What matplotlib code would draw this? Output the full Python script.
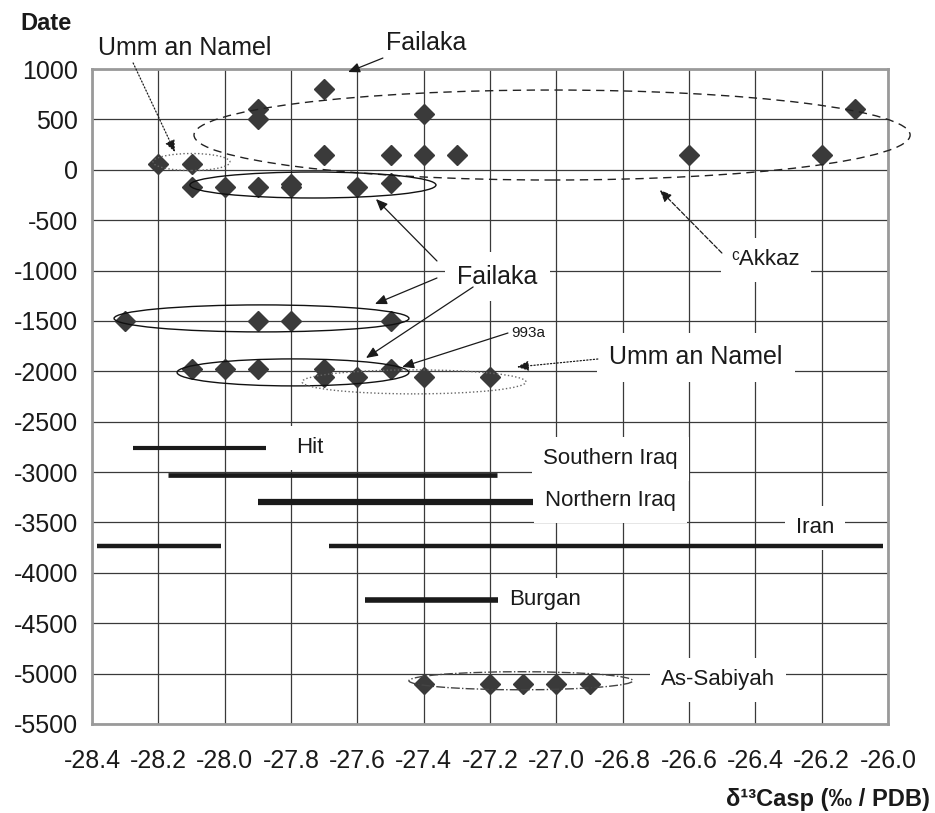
import numpy as np
import matplotlib.pyplot as plt
from matplotlib.patches import Ellipse

plt.rcParams['font.family'] = ['Liberation Sans', 'DejaVu Sans']
plt.rcParams['axes.unicode_minus'] = False

# Sample points (d13C, date)
failaka_top_x = [-27.9, -27.9, -27.7, -27.4, -27.7, -27.5, -27.4, -27.3, -26.6, -26.2, -26.1]
failaka_top_y = [600, 500, 800, 550, 150, 150, 150, 150, 150, 150, 600]
umm_top_x = [-28.2, -28.1]
umm_top_y = [60, 60]
failaka_mid_x = [-28.1, -28.0, -27.9, -27.8, -27.8, -27.6, -27.5]
failaka_mid_y = [-170, -170, -170, -140, -175, -170, -130]
failaka_1500_x = [-28.3, -27.9, -27.8, -27.5]
failaka_1500_y = [-1500, -1500, -1500, -1500]
group_2000_x = [-28.1, -28.0, -27.9, -27.7, -27.7, -27.6, -27.5, -27.4, -27.2]
group_2000_y = [-1980, -1980, -1980, -1980, -2060, -2060, -1980, -2060, -2060]
sabiyah_x = [-27.4, -27.2, -27.1, -27.0, -26.9]
sabiyah_y = [-5100, -5100, -5100, -5100, -5100]

# Reference ranges (horizontal bars)
bar_names = ['Hit', 'Southern Iraq', 'Northern Iraq', 'Iran', 'Iran', 'Burgan']
bar_y = [-2760, -3030, -3300, -3730, -3730, -4270]
bar_x0 = [-28.275, -28.17, -27.90, -28.385, -27.685, -27.577]
bar_x1 = [-27.875, -27.18, -27.07, -28.01, -26.015, -27.176]
bar_lw = [3.0, 3.4, 4.5, 3.2, 3.2, 4.0]

xticks = np.round(np.arange(-28.4, -25.99, 0.2), 1)
yticks = np.arange(-5500, 1001, 500)

fig = plt.figure(figsize=(9.35, 8.13), dpi=100)
ax = fig.add_axes([0.0984, 0.1095, 0.8514, 0.8056])
ax.set_xlim(-28.4, -26.0)
ax.set_ylim(-5500, 1000)
ax.set_xticks(xticks)
ax.set_xticklabels(['%.1f' % v for v in xticks])
ax.set_yticks(yticks)
ax.tick_params(axis='both', length=0, labelsize=18, colors='#1a1a1a')
ax.tick_params(axis='x', pad=18)
ax.tick_params(axis='y', pad=10)
ax.set_axisbelow(True)
ax.grid(True, color='#3a3a3a', lw=0.9)
for s in ax.spines.values():
    s.set_color('#9a9a9a')
    s.set_linewidth(2)

mk = dict(marker='D', ms=10, color='#3a3a3a', ls='none', zorder=5)
for xs, ys in [(failaka_top_x, failaka_top_y), (umm_top_x, umm_top_y),
               (failaka_mid_x, failaka_mid_y), (failaka_1500_x, failaka_1500_y),
               (group_2000_x, group_2000_y), (sabiyah_x, sabiyah_y)]:
    ax.plot(xs, ys, **mk)

for y, a, b, lw in zip(bar_y, bar_x0, bar_x1, bar_lw):
    ax.hlines(y, a, b, color='#1a1a1a', lw=lw, zorder=4)

# group ellipses: (cx, cy, w, h, linestyle, color)
ells = [(-27.013, 345, 2.159, 893, (0, (6, 4)), '#222222'),
        (-28.10, 77, 0.232, 169, ':', '#666666'),
        (-27.734, -151, 0.742, 258, '-', '#111111'),
        (-27.889, -1475, 0.889, 268, '-', '#111111'),
        (-27.794, -2011, 0.699, 268, '-', '#111111'),
        (-27.429, -2105, 0.675, 238, ':', '#666666'),
        (-27.107, -5071, 0.675, 179, '-.', '#444444')]
for cx, cy, w, h, ls, c in ells:
    ax.add_patch(Ellipse((cx, cy), w, h, fill=False, ls=ls, lw=1.0,
                         edgecolor=c, clip_on=False, zorder=6))

box = dict(boxstyle='square,pad=0.5', fc='white', ec='none')
labels = [('Hit', -27.743, -2761, 16),
          ('Southern Iraq', -26.838, -2870, 16),
          ('Northern Iraq', -26.838, -3287, 16),
          ('Iran', -26.220, -3555, 16),
          ('Burgan', -27.034, -4269, 16),
          ('As-Sabiyah', -26.513, -5063, 16),
          ('Umm an Namel', -26.579, -1858, 18),
          ('Failaka', -27.178, -1064, 18),
          ('\u1d9cAkkaz', -26.368, -895, 16)]
for t, x, y, fs in labels:
    ax.text(x, y, t, fontsize=fs, ha='center', va='center', color='#1a1a1a',
            bbox=box, zorder=3)
ax.text(-27.086, -1620, '993a', fontsize=11, ha='center', va='center', color='#1a1a1a')
ax.text(-28.12, 1208, 'Umm an Namel', fontsize=18, ha='center', va='center',
        color='#1a1a1a', clip_on=False)
ax.text(-27.393, 1258, 'Failaka', fontsize=18, ha='center', va='center',
        color='#1a1a1a', clip_on=False)

# arrows: (start, end, linestyle)
arrows = [((-28.276, 1060), (-28.150, 176), ':'),
          ((-27.523, 1109), (-27.628, 970), '-'),
          ((-27.360, -905), (-27.544, -290), '-'),
          ((-27.360, -1074), (-27.547, -1332), '-'),
          ((-27.251, -1163), (-27.574, -1868), '-'),
          ((-27.146, -1620), (-27.465, -1957), '-'),
          ((-26.875, -1878), (-27.119, -1957), ':'),
          ((-26.501, -826), (-26.688, -201), '--')]
for (x0, y0), (x1, y1), ls in arrows:
    ax.annotate('', xy=(x1, y1), xytext=(x0, y0), annotation_clip=False,
                arrowprops=dict(arrowstyle='-|>,head_length=0.7,head_width=0.3',
                                color='#1a1a1a', lw=0.9, ls=ls,
                                shrinkA=0, shrinkB=0), zorder=7)

fig.text(20 / 935, 1 - 24 / 813, 'Date', fontsize=17, fontweight='bold',
         ha='left', va='center', color='#1a1a1a')
fig.text(930 / 935, 1 - 799 / 813, '\u03b4\u00b9\u00b3Casp (\u2030 / PDB)', fontsize=17,
         fontweight='bold', ha='right', va='center', color='#1a1a1a')

fig.savefig('out.png', dpi=100)
